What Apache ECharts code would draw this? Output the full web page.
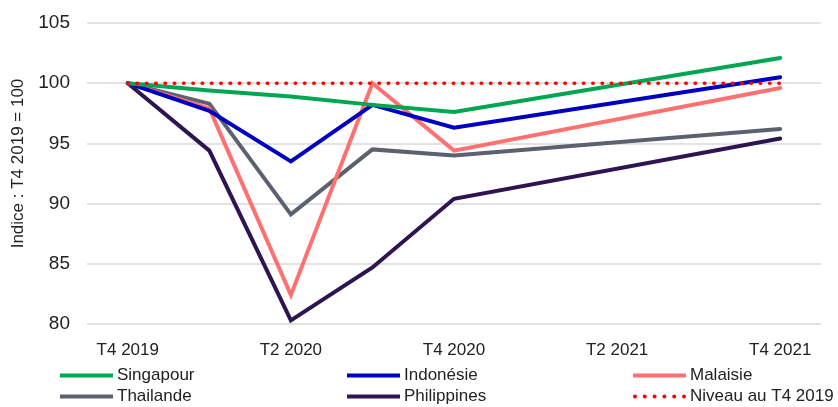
<!DOCTYPE html>
<html>
<head>
<meta charset="utf-8">
<script src="https://cdn.jsdelivr.net/npm/echarts@6/dist/echarts.min.js"></script>
<style>
  html, body { margin: 0; padding: 0; background: #ffffff; }
  #chart { width: 838px; height: 407px; }
</style>
</head>
<body>
<div id="chart"></div>
<script>
// Quarters on the horizontal axis; 2021 T1-T3 have no observation (lines join T4 2020 to T4 2021)
const quarters = ['T4 2019', 'T1 2020', 'T2 2020', 'T3 2020', 'T4 2020', 'T1 2021', 'T2 2021', 'T3 2021', 'T4 2021'];

// GDP index, T4 2019 = 100
const singapour   = [100, 99.4, 98.9, 98.2, 97.6, null, null, null, 102.1];
const indonesie   = [100, 97.7, 93.5, 98.2, 96.3, null, null, null, 100.5];
const malaisie    = [100, 97.9, 82.4, 100.0, 94.4, null, null, null, 99.6];
const thailande   = [100, 98.3, 89.1, 94.5, 94.0, null, null, null, 96.2];
const philippines = [100, 94.4, 80.3, 84.7, 90.4, null, null, null, 95.4];
const niveauT42019 = [100, 100, 100, 100, 100, 100, 100, 100, 100];

const yTicks = { min: 80, max: 105, step: 5 };

const font = 'Liberation Sans, Arial, sans-serif';

// Legend keys: a plain bar for solid lines, a row of six dots for the dotted reference level
const solidKey = 'path://M0,0 L53,0 L53,4 L0,4 Z';
function dotKey() {
  let p = '';
  for (let i = 0; i < 6; i++) {
    const x = i * 9.8;
    p += 'M' + x + ',2 a2,2 0 1,0 4,0 a2,2 0 1,0 -4,0 Z ';
  }
  return 'path://' + p.trim();
}

function lineSeries(name, data, color) {
  return {
    name: name,
    type: 'line',
    data: data,
    connectNulls: true,
    symbol: 'none',
    showSymbol: false,
    lineStyle: { color: color, width: 4, cap: 'round', join: 'miter' },
    itemStyle: { color: color },
    emphasis: { disabled: true }
  };
}

function legendColumn(left, names) {
  return {
    orient: 'vertical',
    left: left,
    top: 367,
    padding: 0,
    itemWidth: 53,
    itemHeight: 4,
    itemGap: 4,
    itemStyle: { borderWidth: 0 },
    textStyle: { fontFamily: font, fontSize: 17, color: '#222222', lineHeight: 17, padding: [0, 0, 0, -1] },
    selectedMode: false,
    data: names.map(function (n) {
      return { name: n, icon: n === 'Niveau au T4 2019' ? dotKey() : solidKey };
    })
  };
}

const chart = echarts.init(document.getElementById('chart'), null, { renderer: 'canvas' });
chart.setOption({
  animation: false,
  backgroundColor: '#ffffff',
  grid: { left: 87, right: 17, top: 23, bottom: 83 },
  xAxis: {
    type: 'category',
    data: quarters,
    boundaryGap: true,
    axisLine: { show: false },
    axisTick: { show: false },
    axisLabel: { interval: 1, margin: 18, fontFamily: font, fontSize: 17, color: '#222222' },
    splitLine: { show: false }
  },
  yAxis: {
    type: 'value',
    min: yTicks.min,
    max: yTicks.max,
    interval: yTicks.step,
    name: 'Indice : T4 2019 = 100',
    nameLocation: 'middle',
    nameGap: 60,
    nameTextStyle: { fontFamily: font, fontSize: 17, color: '#222222', padding: [0, 0, 0, 20] },
    axisLine: { show: false },
    axisTick: { show: false },
    axisLabel: { margin: 17, fontFamily: font, fontSize: 19, color: '#222222' },
    splitLine: { lineStyle: { color: '#d9d9d9', width: 1.5 } }
  },
  legend: [
    legendColumn(60, ['Singapour', 'Thailande']),
    legendColumn(347, ['Indonésie', 'Philippines']),
    legendColumn(633, ['Malaisie', 'Niveau au T4 2019'])
  ],
  series: [
    lineSeries('Philippines', philippines, '#2e1450'),
    lineSeries('Thailande', thailande, '#5b616e'),
    lineSeries('Malaisie', malaisie, '#ff7070'),
    lineSeries('Indonésie', indonesie, '#0000c0'),
    lineSeries('Singapour', singapour, '#00a651'),
    {
      name: 'Niveau au T4 2019',
      type: 'line',
      data: niveauT42019,
      symbol: 'none',
      showSymbol: false,
      lineStyle: { color: '#ff0000', width: 3.5, type: [0.5, 8.8], cap: 'round' },
      itemStyle: { color: '#ff0000' },
      emphasis: { disabled: true }
    }
  ]
});
</script>
</body>
</html>
